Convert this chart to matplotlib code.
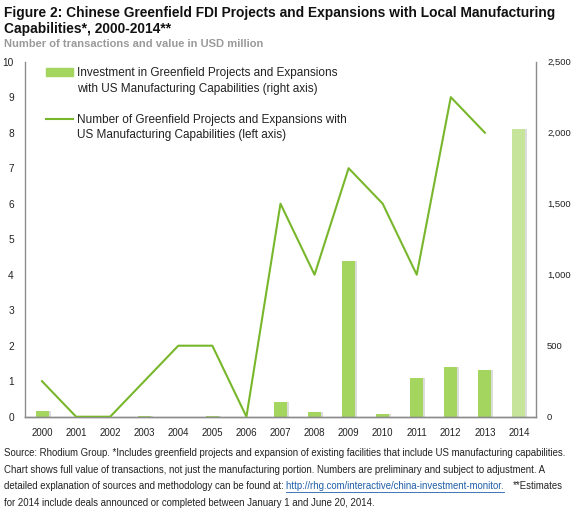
import matplotlib.pyplot as plt
import numpy as np
from matplotlib.patches import Patch
from matplotlib.lines import Line2D

years = ['2000', '2001', '2002', '2003', '2004', '2005', '2006', '2007',
         '2008', '2009', '2010', '2011', '2012', '2013', '2014']
investment = [40, 0, 0, 2, 0, 5, 0, 105, 30, 1100, 18, 272, 350, 330, 2025]
deals = [1, 0, 0, 1, 2, 2, 0, 6, 4, 7, 6, 4, 9, 8]

bar_col = '#a3d55f'
bar_col_est = '#c6e59b'
line_col = '#78b72c'
axis_col = '#8c8c8c'

plt.rcParams['font.family'] = ['Liberation Sans', 'DejaVu Sans']

fig = plt.figure(figsize=(5.72, 5.11), dpi=100)
ax = fig.add_axes([0.0437, 0.1845, 0.8933, 0.6948])
ax2 = ax.twinx()
ax.set_zorder(ax2.get_zorder() + 1)
ax.patch.set_visible(False)

x = np.arange(len(years))
colors = [bar_col] * (len(years) - 1) + [bar_col_est]
# faint shadow behind bars
ax2.bar(x + 0.06, investment, width=0.38, color='#dcdcdc', zorder=1)
ax2.bar(x, investment, width=0.38, color=colors, zorder=2)
ax.plot(x[:len(deals)], deals, color=line_col, lw=1.5, zorder=3)

ax.set_xlim(-0.5, 14.5)
ax.set_ylim(0, 10)
ax2.set_ylim(0, 2500)
ax.set_yticks(range(0, 11))
ax2.set_yticks(range(0, 2501, 500))
ax2.set_yticklabels([f'{v:,}' for v in range(0, 2501, 500)])
ax.set_xticks(x)
ax.set_xticklabels(years)

for a in (ax, ax2):
    a.spines['top'].set_visible(False)
    for s in ('left', 'right', 'bottom'):
        a.spines[s].set_color(axis_col)
        a.spines[s].set_linewidth(1.0)
    a.tick_params(length=0, labelsize=7, colors='#222222')
ax.tick_params(axis='x', pad=8)
ax.tick_params(axis='y', pad=8, labelsize=7.3)
ax2.tick_params(axis='y', pad=8, labelsize=6.8)
ax.spines['right'].set_visible(False)
ax2.spines['left'].set_visible(False)

blank = Patch(color='none')
leg_kw = dict(loc='upper left', frameon=False, fontsize=8.5, handlelength=2.3,
              handletextpad=0.35, labelspacing=0.3, borderpad=0, borderaxespad=0,
              labelcolor='#222222')
leg1 = ax.legend([Patch(color=bar_col), blank],
                 ['Investment in Greenfield Projects and Expansions',
                  'with US Manufacturing Capabilities (right axis)'],
                 bbox_to_anchor=(0.041, 0.985), **leg_kw)
ax.add_artist(leg1)
ax.legend([Line2D([0], [0], color=line_col, lw=1.5), blank],
          ['Number of Greenfield Projects and Expansions with',
           'US Manufacturing Capabilities (left axis)'],
          bbox_to_anchor=(0.041, 0.853), **leg_kw)

fig.text(0.007, 0.988, 'Figure 2: Chinese Greenfield FDI Projects and Expansions with Local Manufacturing\nCapabilities*, 2000-2014**',
         fontsize=9.9, fontweight='bold', va='top', ha='left', color='#111111', linespacing=1.2)
fig.text(0.007, 1 - 44 / 511, 'Number of transactions and value in USD million',
         fontsize=8, fontweight='bold', va='center', ha='left', color='#9a9a9a')

foot = dict(fontsize=6.9, va='center', ha='left', color='#222222')
fig.text(0.007, 1 - 453 / 511, 'Source: Rhodium Group. *Includes greenfield projects and expansion of existing facilities that include US manufacturing capabilities.', **foot)
fig.text(0.007, 1 - 470 / 511, 'Chart shows full value of transactions, not just the manufacturing portion. Numbers are preliminary and subject to adjustment. A', **foot)
t3 = fig.text(0.007, 1 - 486 / 511, 'detailed explanation of sources and methodology can be found at: ', **foot)
fig.text(0.007, 1 - 503 / 511, 'for 2014 include deals announced or completed between January 1 and June 20, 2014.', **foot)

# place link and trailing text right after line 3
fig.canvas.draw()
r = fig.canvas.get_renderer()
inv = fig.transFigure.inverted()
x_link = inv.transform(t3.get_window_extent(r).p1)[0]
link = fig.text(x_link, 1 - 486 / 511, 'http://rhg.com/interactive/china-investment-monitor. ',
                **{**foot, 'color': '#1f5fa8'})
bb = link.get_window_extent(r)
x_end = inv.transform(bb.p1)[0]
fig.add_artist(Line2D([x_link, x_end - 0.004], [1 - 492 / 511] * 2, color='#1f5fa8', lw=0.6))
fig.text(x_end + 0.01, 1 - 486 / 511, '**Estimates', **foot)

fig.savefig('out.png', dpi=100)
